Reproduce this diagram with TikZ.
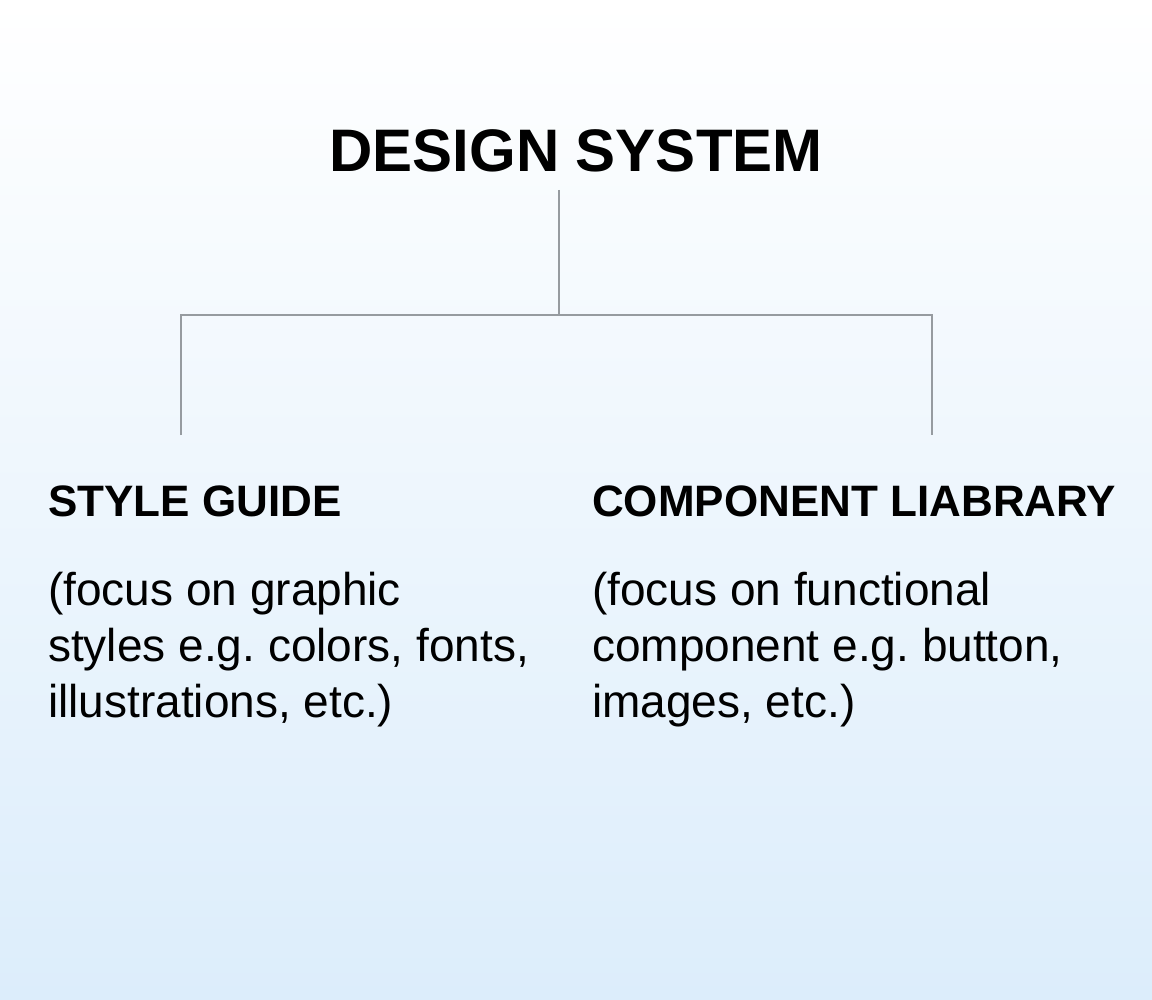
\documentclass[tikz,border=0pt]{standalone}
\usepackage{fontspec}
\setmainfont{Liberation Sans}
\definecolor{bgbot}{RGB}{220,237,251}
\definecolor{linegray}{RGB}{150,155,160}
\frenchspacing
\begin{document}
\begin{tikzpicture}[x=1pt,y=-1pt,
  title/.style={font=\fontsize{60}{70}\selectfont\bfseries, inner sep=0pt},
  head/.style={font=\fontsize{44}{50}\selectfont\bfseries, anchor=base west, inner sep=0pt},
  body/.style={font=\fontsize{46}{56}\selectfont, anchor=north west, inner sep=0pt, align=left},
  conn/.style={draw=linegray, line width=1.2pt}]
\shade[top color=white, bottom color=bgbot] (0,0) rectangle (1152,1000);
\useasboundingbox (0,0) rectangle (1152,1000);
\node[title, anchor=base] (t) at (576,172) {DESIGN SYSTEM};
\coordinate (top) at (559,190);
\coordinate (mid) at (559,315);
\coordinate (l) at (181,435);
\coordinate (r) at (932,435);
\draw[conn] (top) -- (mid);
\draw[conn] (l) |- (mid) -| (r);
\node[head] (sg) at (48,516) {STYLE GUIDE};
\node[head] (cl) at (592,516) {COMPONENT LIABRARY};
\node[body] (sgb) at (48,572) {(focus on graphic\\styles e.g. colors, fonts,\\illustrations, etc.)};
\node[body] (clb) at (592,572) {(focus on functional\\component e.g. button,\\images, etc.)};
\end{tikzpicture}
\end{document}
